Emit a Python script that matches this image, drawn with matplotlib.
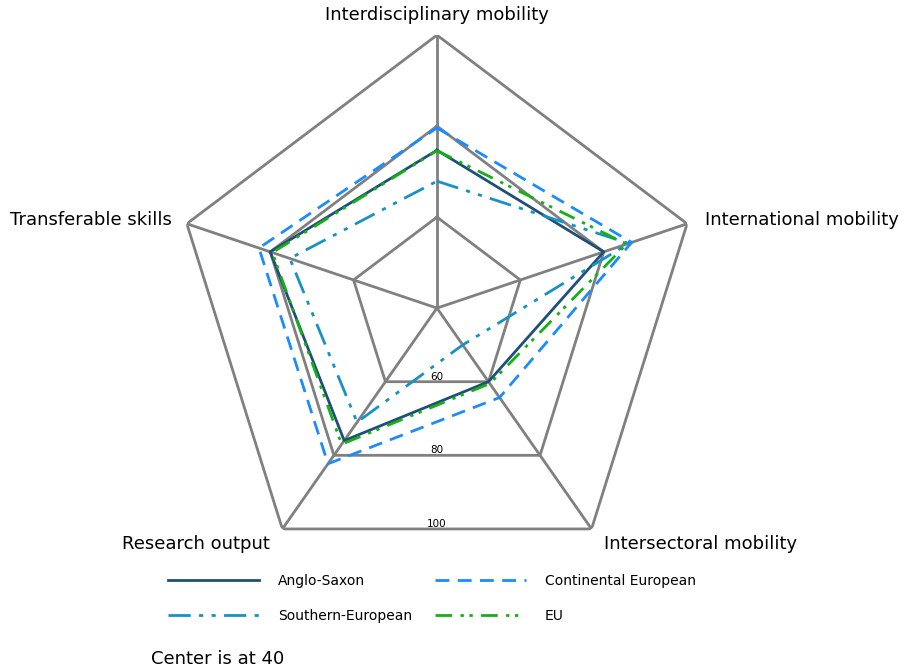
# Radar chart: mobility / skills indicators by country group (centre = 40)
import numpy as np
import matplotlib
matplotlib.use('Agg')
import matplotlib.pyplot as plt
from matplotlib.lines import Line2D

axes_labels = ['Interdisciplinary mobility', 'International mobility',
               'Intersectoral mobility', 'Research output', 'Transferable skills']
series_names = ['Anglo-Saxon', 'Continental European', 'Southern-European', 'EU']
anglo_saxon = [74.7, 80.0, 60.0, 76.0, 80.0]
continental = [79.6, 86.7, 64.3, 82.3, 82.7]
southern = [67.9, 86.0, 50.0, 71.0, 75.3]
eu = [74.6, 85.5, 60.5, 77.0, 79.5]
ring_values = [60, 80, 100]
r_min, r_max = 40, 100

colors = ['#1f4e79', '#1a8cff', '#1593c4', '#14b014']
styles = ['-', (0, (5, 3)), (0, (8, 3, 1.5, 3, 1.5, 3)), (0, (6, 3, 1.2, 2, 1.2, 3))]

plt.rcParams['font.family'] = ['DejaVu Sans']

fig = plt.figure(figsize=(9.06, 6.71), dpi=100)
ax = fig.add_axes([0.192, 0.134, 0.5806, 0.8137], projection='polar')
ax.set_aspect('auto')
ax.set_theta_offset(np.pi / 2)
ax.set_theta_direction(-1)
ax.set_ylim(r_min, r_max)
ax.axis('off')

n = len(axes_labels)
theta = np.linspace(0, 2 * np.pi, n, endpoint=False)
theta_c = np.append(theta, theta[0])

grid_col = '#808080'
for rv in ring_values:
    ax.plot(theta_c, [rv] * (n + 1), color=grid_col, lw=2, zorder=1)
for t in theta:
    ax.plot([t, t], [r_min, r_max], color=grid_col, lw=2, zorder=1)

data = [anglo_saxon, continental, southern, eu]
for vals, name, c, ls in zip(data, series_names, colors, styles):
    v = np.append(vals, vals[0])
    ax.plot(theta_c, v, color=c, ls=ls, lw=2, label=name, zorder=3)

# ring value labels on the bottom edge
for rv in ring_values:
    r_mid = r_min + (rv - r_min) * np.cos(np.pi / n)
    ax.text(np.pi, r_mid, str(rv), ha='center', va='bottom', fontsize=7.5, zorder=4)

# category labels
offsets = [(0, 8, 'center', 'bottom'), (13, 3, 'left', 'center'),
           (9, -11, 'left', 'center'), (-9, -11, 'right', 'center'),
           (-11, 3, 'right', 'center')]
for t, lab, (dx, dy, ha, va) in zip(theta, axes_labels, offsets):
    ax.annotate(lab, xy=(t, r_max), xytext=(dx, dy), textcoords='offset points',
                ha=ha, va=va, fontsize=13, annotation_clip=False)

handles = [Line2D([], [], color=c, ls=ls, lw=2) for c, ls in zip(colors, styles)]
order = [0, 2, 1, 3]
fig.legend([handles[i] for i in order], [series_names[i] for i in order],
           ncol=2, frameon=False, fontsize=10, handlelength=6.5,
           columnspacing=1.7, handletextpad=1.37, labelspacing=1.5,
           loc='center left', bbox_to_anchor=(0.172, 0.108))

fig.text(0.167, 0.004, 'Center is at 40', fontsize=13, ha='left', va='bottom')

plt.savefig('out.png', dpi=100)
